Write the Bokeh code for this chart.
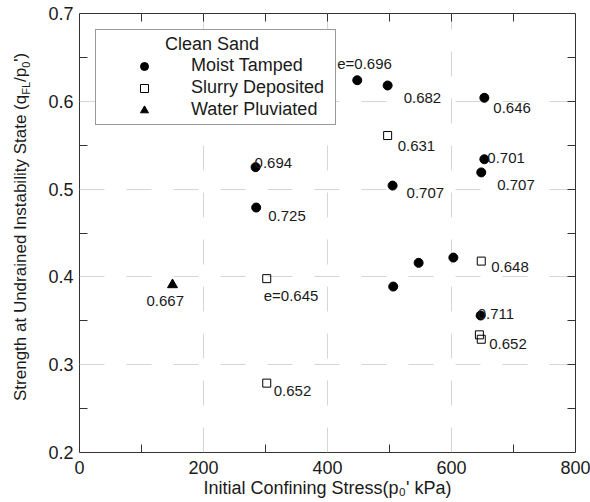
from bokeh.plotting import figure
from bokeh.layouts import row
from bokeh.models import (ColumnDataSource, Legend, LegendItem, LinearAxis, FixedTicker,
                          Range1d, Div)
from bokeh.embed import file_html
from bokeh.resources import INLINE
from bokeh.core.properties import value

# ---------------- data ----------------
x_ticks = [0, 200, 400, 600, 800]
x_minor = [100, 300, 500, 700]
y_ticks = [0.2, 0.3, 0.4, 0.5, 0.6, 0.7]
y_minor = [0.25, 0.35, 0.45, 0.55, 0.65]
top_ticks = [100, 200, 300, 400, 500, 600, 700]
right_ticks = [0.25, 0.3, 0.35, 0.4, 0.45, 0.5, 0.55, 0.6, 0.65]

mt_stress = [448, 497, 653, 653, 648, 505, 284, 285, 547, 603, 506, 647]
mt_strength = [0.624, 0.618, 0.604, 0.534, 0.519, 0.504, 0.525, 0.479, 0.416, 0.422, 0.389, 0.356]
mt_e = ["e=0.696", "0.682", "0.646", "0.701", "0.707", "0.707", "0.694", "0.725", "", "", "", "0.711"]

sd_stress = [497, 648, 645, 648, 302, 302]
sd_strength = [0.561, 0.418, 0.334, 0.329, 0.398, 0.279]
sd_e = ["0.631", "0.648", "", "0.652", "e=0.645", "0.652"]

wp_stress = [150]
wp_strength = [0.391]
wp_e = ["0.667"]

# label offsets in pixels (style)
mt_dx = [-20, 16, 9, 3, 16, 14, -1, 12, 0, 0, 0, -3]
mt_dy = [-17, 13, 10, -1, 13, 7, -4, 8, 0, 0, 0, -2]
sd_dx = [10, 10, 0, 8, -3, 7]
sd_dy = [10, 6, 0, 5, 17, 8]
wp_dx = [-26]
wp_dy = [16]

FONT = "Liberation Sans"
INK = "#1a1a1a"
YDIV_W = 36

p = figure(width=590 - YDIV_W, height=502, x_range=Range1d(0, 800), y_range=Range1d(0.2, 0.7),
           output_backend="svg", toolbar_location=None, margin=0,
           min_border_left=79 - YDIV_W, min_border_right=15, min_border_top=13,
           min_border_bottom=50)
p.background_fill_color = "white"
p.border_fill_color = "white"
p.outline_line_color = "#333333"
p.outline_line_width = 1

# axes
p.xaxis.ticker = FixedTicker(ticks=x_ticks, minor_ticks=x_minor)
p.yaxis.ticker = FixedTicker(ticks=y_ticks, minor_ticks=y_minor)
for ax in (p.xaxis[0], p.yaxis[0]):
    ax.axis_line_color = None
    ax.major_tick_in = 0
    ax.major_tick_out = 0
    ax.minor_tick_in = 8
    ax.minor_tick_out = 0
    ax.minor_tick_line_color = "#333333"
    ax.major_label_text_font = FONT
    ax.major_label_text_font_size = "18px"
    ax.major_label_text_color = INK
p.xaxis.major_label_standoff = 8
p.yaxis.major_label_standoff = 6
p.xaxis.axis_label = "Initial Confining Stress(p\u2080' kPa)"
p.xaxis.axis_label_text_font = FONT
p.xaxis.axis_label_text_font_size = "18px"
p.xaxis.axis_label_text_font_style = "normal"
p.xaxis.axis_label_text_color = INK
p.xaxis.axis_label_standoff = 1

top_ax = LinearAxis(ticker=FixedTicker(ticks=[], minor_ticks=top_ticks))
right_ax = LinearAxis(ticker=FixedTicker(ticks=[], minor_ticks=right_ticks))
for ax in (top_ax, right_ax):
    ax.axis_line_color = None
    ax.major_tick_in = 0
    ax.major_tick_out = 0
    ax.minor_tick_in = 8
    ax.minor_tick_out = 0
    ax.minor_tick_line_color = "#333333"
p.add_layout(top_ax, "above")
p.add_layout(right_ax, "right")

p.grid.grid_line_color = "#d6d6d6"
p.grid.grid_line_dash = "25 22"
p.grid.grid_line_width = 1

# markers
r_mt = p.scatter(mt_stress, mt_strength, marker="circle", size=9,
                 fill_color="black", line_color="black")
r_sd = p.scatter(sd_stress, sd_strength, marker="square", size=8,
                 fill_color=None, line_color="black", line_width=1)
r_wp = p.scatter(wp_stress, wp_strength, marker="triangle", size=10,
                 fill_color="black", line_color="black")

# void ratio labels
lx, ly, lt, ldx, ldy = [], [], [], [], []
for xs, ys, ts, dxs, dys in ((mt_stress, mt_strength, mt_e, mt_dx, mt_dy),
                             (sd_stress, sd_strength, sd_e, sd_dx, sd_dy),
                             (wp_stress, wp_strength, wp_e, wp_dx, wp_dy)):
    for xv, yv, t, dx, dy in zip(xs, ys, ts, dxs, dys):
        if t:
            lx.append(xv); ly.append(yv); lt.append(t); ldx.append(dx); ldy.append(dy)
src = ColumnDataSource(dict(x=lx, y=ly, t=lt, dx=ldx, dy=ldy))
p.text(x="x", y="y", text="t", x_offset="dx", y_offset="dy", source=src,
       text_font=value(FONT), text_font_size="15px", text_color=INK,
       text_baseline="middle", text_align="left")

# legend (title indented with no-break spaces)
legend = Legend(items=[LegendItem(label="Moist Tamped", renderers=[r_mt]),
                       LegendItem(label="Slurry Deposited", renderers=[r_sd]),
                       LegendItem(label="Water Pluviated", renderers=[r_wp])],
                location="top_left", margin=16, padding=4, spacing=1,
                glyph_width=88, glyph_height=20, label_height=20, label_standoff=3,
                label_width=140,
                label_text_font=FONT, label_text_font_size="18px", label_text_color=INK,
                title="\u00a0" * 13 + "Clean Sand", title_text_font=FONT,
                title_text_font_size="18px", title_text_font_style="normal",
                title_text_color=INK, title_standoff=0,
                border_line_color="#333333", border_line_width=1,
                background_fill_color="white", background_fill_alpha=1.0)
p.add_layout(legend)

# y axis title (rotated HTML text with true subscripts)
sub = "font-size:11px;position:relative;top:4px;"
ylabel_html = (
    f'<div style="position:relative;width:{YDIV_W}px;height:502px;">'
    '<span style="position:absolute;left:12px;top:401px;transform-origin:0 0;'
    'transform:rotate(-90deg);white-space:nowrap;font-family:\'Liberation Sans\';'
    f'font-size:17px;line-height:1;color:{INK};">'
    f'Strength at Undrained Instability State (q<span style="{sub}">FL</span>/p'
    f'<span style="{sub}">0</span>\')</span></div>'
)
ylabel = Div(text=ylabel_html, width=YDIV_W, height=502, margin=0)

layout = row(ylabel, p, spacing=0, margin=0)

open("out.html", "w").write(file_html(layout, INLINE))
